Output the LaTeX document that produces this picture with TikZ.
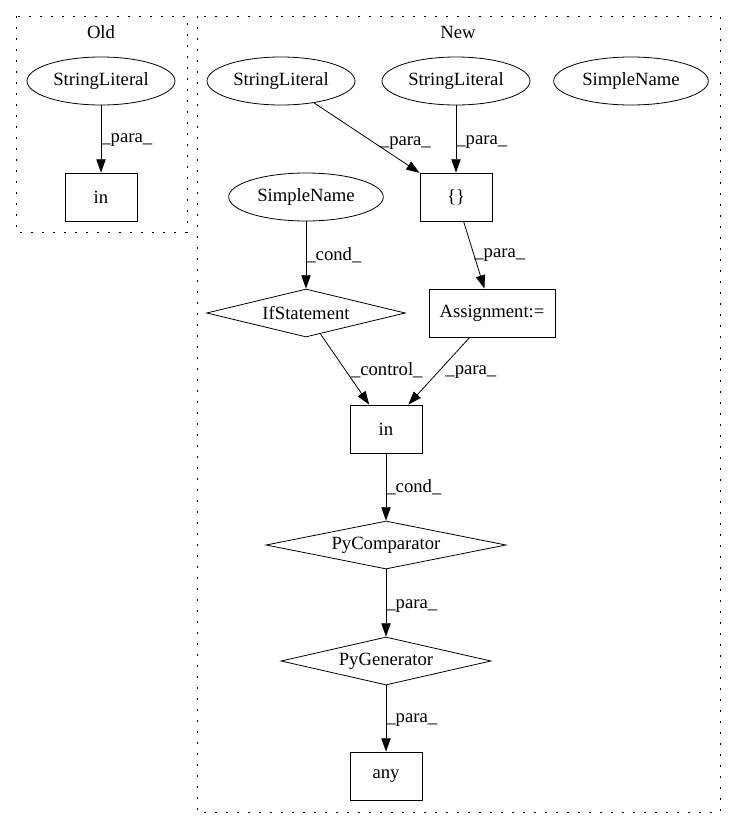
\documentclass[tikz,border=0pt]{standalone}
\usepackage{fontspec}
\setmainfont{Liberation Serif}
\usetikzlibrary{shapes.geometric,arrows.meta}

\begin{document}
\begin{tikzpicture}[x=0.75pt, y=-0.75pt,
        every node/.style={font=\fontsize{14}{16}\selectfont},
        ell/.style={draw, ellipse, line width=0.6pt, minimum width=#1, minimum height=36pt, inner sep=0pt},
        ell/.default=111pt,
        box/.style={draw, rectangle, line width=0.6pt, minimum width=#1, minimum height=36pt, inner sep=0pt},
        box/.default=54pt,
        romb/.style={draw, diamond, aspect=5, line width=0.6pt, minimum width=#1, minimum height=36pt, inner sep=0pt},
        lab/.style={anchor=west, inner sep=0pt},
        edge/.style={-{Triangle[length=10pt,width=7pt]}, line width=0.6pt},
        cluster/.style={line width=0.7pt, dash pattern=on 1.5pt off 6.75pt}]
    \useasboundingbox (0,0) rectangle (736,828);

    % Кластеры
    \draw[cluster] (16,16) rectangle (187,232);
    \draw[cluster] (197,16) rectangle (720,812);
    \node (oldtitle) at (101,32) {Old};
    \node (newtitle) at (458,32) {New};

    % Old
    \node[ell] (oldlit) at (101,81) {StringLiteral};
    \node[box] (oldin) at (101,197) {in};
    \draw[edge] (oldlit) -- node[lab, pos=0.52] {\_para\_} (oldin);

    % New: вершины
    \node[ell] (lit1) at (281,81) {StringLiteral};
    \node[ell] (lit2) at (456,81) {StringLiteral};
    \node[ell=116pt] (name1) at (631,81) {SimpleName};
    \node[ell=116pt] (name2) at (306,197) {SimpleName};
    \node[box] (braces) at (456,197) {\{\}};
    \node[romb=149pt] (ifst) at (306,313) {IfStatement};
    \node[box=94.5pt] (assign) at (492,313) {Assignment:=};
    \node[box] (newin) at (386,429) {in};
    \node[romb=180pt] (pycomp) at (386,545) {PyComparator};
    \node[romb=157.5pt] (pygen) at (386,661) {PyGenerator};
    \node[box] (anycall) at (386,776) {any};

    % New: рёбра
    \draw[edge] (lit1) -- node[lab, pos=0.57, xshift=4pt] {\_para\_} (braces);
    \draw[edge] (lit2) -- node[lab, pos=0.55] {\_para\_} (braces);
    \draw[edge] (braces) -- node[lab, pos=0.5] {\_para\_} (assign);
    \draw[edge] (name2) -- node[lab, pos=0.5] {\_cond\_} (ifst);
    \draw[edge] (ifst) -- node[lab, pos=0.51, xshift=4pt] {\_control\_} (newin);
    \draw[edge] (assign) -- node[lab, pos=0.51, xshift=5pt] {\_para\_} (newin);
    \draw[edge] (newin) -- node[lab, pos=0.5] {\_cond\_} (pycomp);
    \draw[edge] (pycomp) -- node[lab, pos=0.54] {\_para\_} (pygen);
    \draw[edge] (pygen) -- node[lab, pos=0.52] {\_para\_} (anycall);
\end{tikzpicture}
\end{document}
